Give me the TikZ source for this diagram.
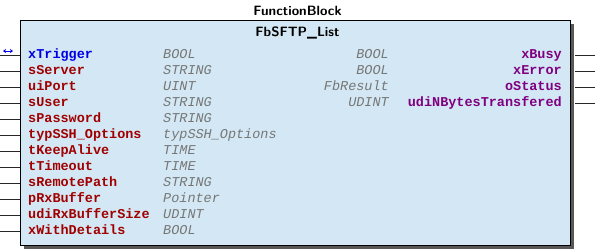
\documentclass[tikz,border=0pt]{standalone}
\usepackage{fontspec}
\setmainfont{Liberation Sans}
\setmonofont{Liberation Mono}
\usetikzlibrary{arrows.meta,shadows}

\definecolor{fbfill}{RGB}{211,232,244}
\definecolor{fbshadow}{RGB}{88,88,88}
\definecolor{inred}{RGB}{160,0,0}
\definecolor{inoutblue}{RGB}{0,0,230}
\definecolor{outpurple}{RGB}{128,0,128}
\definecolor{typegray}{RGB}{118,118,118}

\newcommand\pinfont{\fontsize{13.5}{16}\selectfont\ttfamily}
\newcommand\headfont{\fontsize{13.5}{16}\selectfont\sffamily\bfseries}

\begin{document}
\begin{tikzpicture}[x=1pt,y=-1pt,
  fbbox/.style={draw=black,line width=0.9pt,fill=fbfill,minimum width=550pt,minimum height=225pt,
    drop shadow={shadow xshift=4pt,shadow yshift=-4pt,fill=fbshadow,opacity=1}},
  pinname/.style={font=\pinfont\bfseries,inner sep=0pt},
  pintype/.style={font=\pinfont\itshape,text=typegray,inner sep=0pt},
  pinline/.style={line width=1.8pt,black!85}]
\useasboundingbox (0,0) rectangle (595,250);

% block body and headings
\node[fbbox] (fb) at (295,132.5) {};
\node[font=\headfont,anchor=base] (kind) at (297.5,15) {FunctionBlock};
\node[font=\headfont,anchor=base] (title) at (297.5,36) {FbSFTP\_List};

% inputs
\foreach \name/\type/\col [count=\i] in {xTrigger/BOOL/inoutblue, sServer/STRING/inred,
    uiPort/UINT/inred, sUser/STRING/inred, sPassword/STRING/inred,
    typSSH\_Options/typSSH\_Options/inred, tKeepAlive/TIME/inred, tTimeout/TIME/inred,
    sRemotePath/STRING/inred, pRxBuffer/Pointer/inred, udiRxBufferSize/UDINT/inred,
    xWithDetails/BOOL/inred}{
  \pgfmathsetmacro\y{55.5+16*(\i-1)}
  \coordinate (in\i) at (0,\y);
  \node[pinname,text=\col,anchor=base west] (inname\i) at (28,\y+3) {\name};
  \node[pintype,anchor=base west] (intype\i) at (163,\y+3) {\type};
  \draw[pinline] (in\i) -- (in\i -| fb.west);
}
\draw[inoutblue,line width=1pt,{Stealth[length=3pt,width=4pt]}-{Stealth[length=3pt,width=4pt]}]
  (3,51) -- (13,51);

% outputs
\foreach \name/\type [count=\i] in {xBusy/BOOL, xError/BOOL, oStatus/FbResult,
    udiNBytesTransfered/UDINT}{
  \pgfmathsetmacro\y{55.5+16*(\i-1)}
  \coordinate (out\i) at (595,\y);
  \node[pinname,text=outpurple,anchor=base east] (outname\i) at (562,\y+3) {\name};
  \node[pintype,anchor=base east] (outtype\i) at (389,\y+3) {\type};
  \draw[pinline] ([xshift=5pt]fb.east |- out\i) -- (out\i);
}
\end{tikzpicture}
\end{document}
